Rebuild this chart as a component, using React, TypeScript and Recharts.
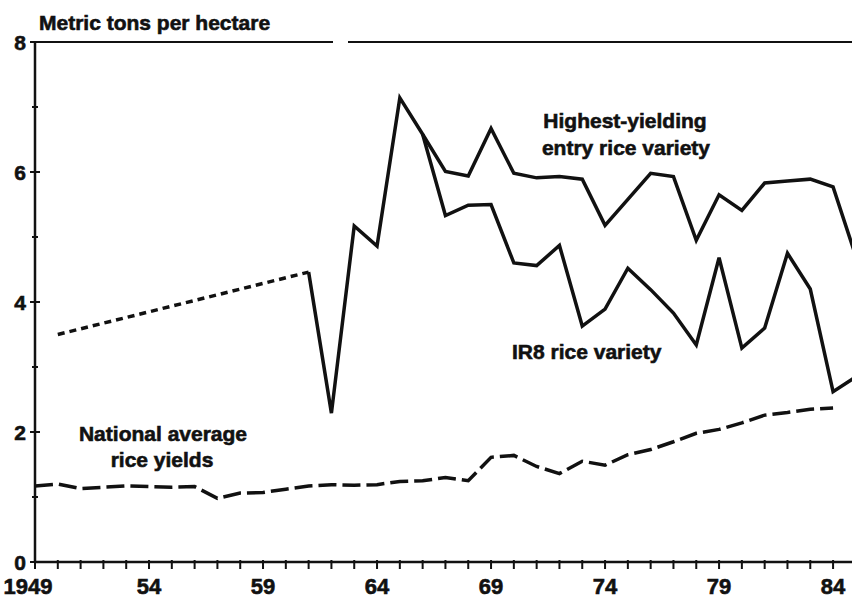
import { Line, LineChart, ReferenceLine, XAxis, YAxis } from "recharts";

const years = [
  1949, 1950, 1951, 1952, 1953, 1954, 1955, 1956, 1957, 1958, 1959, 1960,
  1961, 1962, 1963, 1964, 1965, 1966, 1967, 1968, 1969, 1970, 1971, 1972,
  1973, 1974, 1975, 1976, 1977, 1978, 1979, 1980, 1981, 1982, 1983, 1984,
  1985,
];

// dotted segment before the first field trials
const earlyYield = [
  null, 3.5, null, null, null, null, null, null, null, null, null, null,
  4.46, null, null, null, null, null, null, null, null, null, null, null,
  null, null, null, null, null, null, null, null, null, null, null, null,
  null,
];

const highestYield = [
  null, null, null, null, null, null, null, null, null, null, null, null,
  4.46, 2.29, 5.17, 4.86, 7.14, 6.58, 6.01, 5.94, 6.67, 5.98, 5.91, 5.93,
  5.89, 5.18, 5.58, 5.98, 5.93, 4.95, 5.65, 5.41, 5.83, 5.86, 5.89, 5.77,
  4.7,
];

const ir8Yield = [
  null, null, null, null, null, null, null, null, null, null, null, null,
  null, null, null, null, null, 6.58, 5.33, 5.49, 5.5, 4.6, 4.56, 4.87,
  3.63, 3.89, 4.52, 4.19, 3.83, 3.34, 4.68, 3.29, 3.6, 4.75, 4.2, 2.62,
  2.85,
];

const nationalYield = [
  1.17, 1.2, 1.13, 1.15, 1.17, 1.16, 1.15, 1.16, 0.98, 1.06, 1.07, 1.12,
  1.17, 1.19, 1.18, 1.19, 1.24, 1.25, 1.3, 1.25, 1.61, 1.64, 1.47, 1.36,
  1.55, 1.49, 1.65, 1.73, 1.85, 1.98, 2.04, 2.14, 2.26, 2.3, 2.35, 2.37,
  null,
];

const xTickYears = years.slice(0, 36);
const xLabels: Record<number, string> = {
  1949: "1949",
  1954: "54",
  1959: "59",
  1964: "64",
  1969: "69",
  1974: "74",
  1979: "79",
  1984: "84",
};
const yTicks = [0, 1, 2, 3, 4, 5, 6, 7, 8];

const data = years.map((year, i) => ({
  year,
  early: earlyYield[i],
  highest: highestYield[i],
  ir8: ir8Yield[i],
  national: nationalYield[i],
}));

const FONT = '"Liberation Sans", Arial, sans-serif';
const INK = "#111";

function YTick(props: any) {
  const { x, y, payload } = props;
  const major = payload.value % 2 === 0;
  const half = major ? 5 : 3;
  return (
    <g>
      <line x1={x - half} x2={x + half} y1={y} y2={y} stroke={INK} strokeWidth={2} />
      {major && (
        <text
          x={x - 9}
          y={y}
          dy="0.36em"
          textAnchor="end"
          fontFamily={FONT}
          fontWeight="bold"
          fontSize={21}
          fill={INK}
          stroke={INK}
          strokeWidth={0.6}
        >
          {payload.value}
        </text>
      )}
    </g>
  );
}

// year ticks: a short mark under the axis, labels every fifth year
function XTick(props: any) {
  const { x, y, payload } = props;
  const label = xLabels[payload.value];
  const shift = payload.value === 1949 ? -7 : 0;
  return (
    <g>
      <rect x={x - 1} y={y - 18} width={2} height={9} fill={INK} />
      {label && (
        <text
          x={x + shift}
          y={y}
          dy="0.71em"
          textAnchor="middle"
          fontFamily={FONT}
          fontWeight="bold"
          fontSize={22}
          fill={INK}
          stroke={INK}
          strokeWidth={0.6}
        >
          {label}
        </text>
      )}
    </g>
  );
}

const labelStyle = {
  fontFamily: FONT,
  fontWeight: "bold" as const,
  fontSize: 21,
  fill: INK,
  stroke: INK,
  strokeWidth: 0.6,
};

export default function App() {
  return (
    <div
      style={{
        position: "absolute",
        left: 0,
        top: 0,
        width: 852,
        height: 603,
        background: "#fff",
        overflow: "hidden",
      }}
    >
      <LineChart
        width={852}
        height={603}
        data={data}
        margin={{ top: 42, right: 0, bottom: 0, left: 0 }}
      >
        <XAxis
          dataKey="year"
          type="number"
          domain={[1949, 1984.83]}
          allowDataOverflow
          ticks={xTickYears}
          interval={0}
          height={41}
          tickSize={7}
          tickMargin={9}
          axisLine={{ stroke: INK, strokeWidth: 2.5 }}
          tickLine={false}
          tick={<XTick />}
        />
        <YAxis
          type="number"
          domain={[0, 8]}
          ticks={yTicks}
          interval={0}
          width={35}
          tickSize={0}
          tickMargin={0}
          tickLine={false}
          axisLine={{ stroke: INK, strokeWidth: 2.5 }}
          tick={<YTick />}
        />
        <ReferenceLine
          y={8}
          stroke={INK}
          strokeWidth={2}
          strokeDasharray="298 15 1000"
        />
        <Line
          dataKey="early"
          type="linear"
          stroke={INK}
          strokeWidth={3.5}
          strokeDasharray="7 5"
          connectNulls
          dot={false}
          activeDot={false}
          isAnimationActive={false}
        />
        <Line
          dataKey="highest"
          type="linear"
          stroke={INK}
          strokeWidth={3.5}
          strokeLinejoin="miter"
          dot={false}
          activeDot={false}
          isAnimationActive={false}
        />
        <Line
          dataKey="ir8"
          type="linear"
          stroke={INK}
          strokeWidth={3.5}
          strokeLinejoin="miter"
          dot={false}
          activeDot={false}
          isAnimationActive={false}
        />
        <Line
          dataKey="national"
          type="linear"
          stroke={INK}
          strokeWidth={3.5}
          strokeDasharray="18 6"
          dot={false}
          activeDot={false}
          isAnimationActive={false}
        />
      </LineChart>
      <svg
        width={852}
        height={603}
        style={{ position: "absolute", left: 0, top: 0, pointerEvents: "none" }}
      >
        <text x={39} y={30} {...labelStyle}>
          Metric tons per hectare
        </text>
        <text x={625} y={128} textAnchor="middle" {...labelStyle}>
          Highest-yielding
        </text>
        <text x={626} y={155} textAnchor="middle" {...labelStyle}>
          entry rice variety
        </text>
        <text x={512} y={359} {...labelStyle}>
          IR8 rice variety
        </text>
        <text x={163} y={441} textAnchor="middle" {...labelStyle}>
          National average
        </text>
        <text x={162} y={467} textAnchor="middle" {...labelStyle}>
          rice yields
        </text>
      </svg>
    </div>
  );
}
